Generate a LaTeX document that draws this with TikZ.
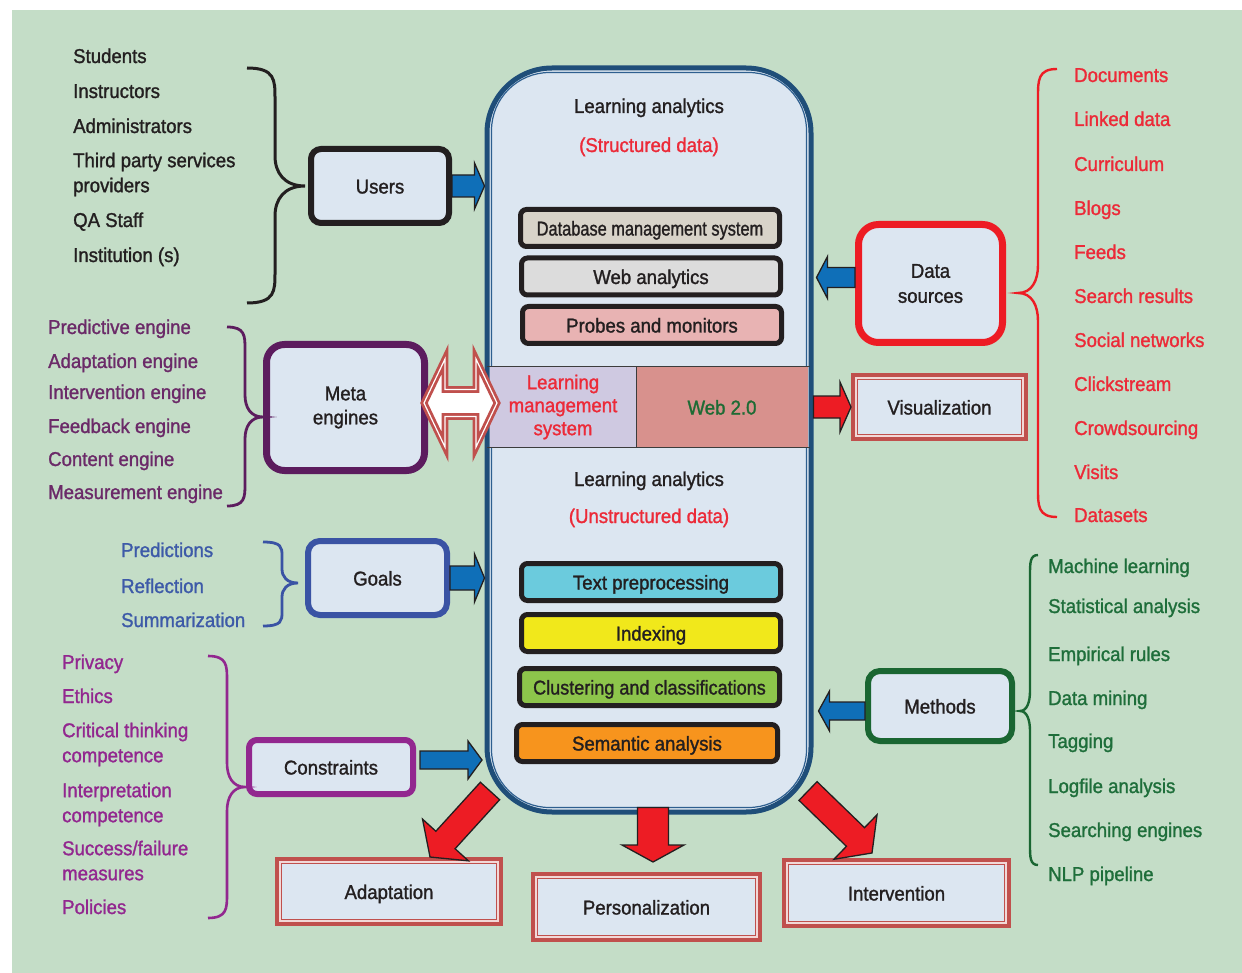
\documentclass[tikz,border=0pt]{standalone}
\usepackage{fontspec}
\usepackage{graphicx}
\setmainfont{Liberation Sans}[FakeStretch=0.93,FakeBold=1.3]
\usetikzlibrary{calc}
\definecolor{bggreen}{HTML}{C4DDC7}
\definecolor{boxfill}{HTML}{DCE6F1}
\definecolor{ink}{HTML}{231F20}
\definecolor{laBlue}{HTML}{1F4E79}
\definecolor{laIn}{HTML}{2E5F8F}
\definecolor{redtxt}{HTML}{EC2A38}
\definecolor{purptxt}{HTML}{6B2A68}
\definecolor{bluetxt}{HTML}{3D5AA8}
\definecolor{magtxt}{HTML}{92278F}
\definecolor{greentxt}{HTML}{1E6E3A}
\definecolor{metaC}{HTML}{5C1C5E}
\definecolor{goalC}{HTML}{3A53A4}
\definecolor{consC}{HTML}{92278F}
\definecolor{dsC}{HTML}{ED1C24}
\definecolor{methC}{HTML}{1A6632}
\definecolor{outC}{HTML}{C0504D}
\definecolor{outIn}{HTML}{F2D8D7}
\definecolor{arrBlue}{HTML}{0F6FB8}
\definecolor{arrRed}{HTML}{ED1C24}
\definecolor{dbmsC}{HTML}{D8D3C9}
\definecolor{webC}{HTML}{DCDCDC}
\definecolor{probC}{HTML}{E8B3B3}
\definecolor{textC}{HTML}{6BCBDD}
\definecolor{idxC}{HTML}{F1E81B}
\definecolor{clusC}{HTML}{8DC54B}
\definecolor{semC}{HTML}{F7941D}
\definecolor{lmsC}{HTML}{CFC9E1}
\definecolor{webtwoC}{HTML}{D8918D}
\definecolor{webtwoT}{HTML}{1E6B34}
\definecolor{bandline}{HTML}{3C3C3C}

\tikzset{
 ubox/.style={draw=#1, fill=boxfill, line width=6pt, rounded corners=10pt, text=ink, inner sep=0pt},
 onelabel/.style={text height=15pt, text depth=0pt},
 obox/.style={draw=outC, line width=7pt, fill=boxfill, text=ink, inner sep=0pt, text height=15pt, text depth=0pt},
 oinner/.style={draw=outIn, line width=1.2pt},
 bar/.style={draw=ink, line width=5pt, rounded corners=6pt, fill=#1, text=ink, inner sep=0pt, text height=15pt, text depth=0pt, minimum width=259pt, minimum height=37pt},
 item/.style={anchor=base west, inner sep=0pt, text=#1},
 itemtwo/.style={anchor=north west, inner sep=0pt, align=left, text=#1},
 barrowB/.style={fill=arrBlue, draw=ink, line width=1.3pt},
 barrowR/.style={fill=arrRed, draw=ink, line width=1.3pt},
 title/.style={anchor=base, inner sep=0pt, text=#1},
}

% block arrow: style, tail, tip, half shaft, half head, head length
\newcommand\blockarrow[6]{%
  \path (#2) coordinate (ba-a) (#3) coordinate (ba-b);
  \coordinate (ba-c) at ($(ba-b)!#6pt!(ba-a)$);
  \draw[#1] ($(ba-a)!#4pt!90:(ba-b)$) -- ($(ba-c)!#4pt!-90:(ba-a)$) -- ($(ba-c)!#5pt!-90:(ba-a)$) -- (ba-b) -- ($(ba-c)!#5pt!90:(ba-a)$) -- ($(ba-c)!#4pt!90:(ba-a)$) -- ($(ba-a)!#4pt!-90:(ba-b)$) -- cycle;
}
% brace: style, x end, x straight, x tip, y top, y tip, y bottom, curl
\newcommand\mybrace[8]{%
  \draw[#1] (#2,#5) .. controls (#3,#5) and (#3,{#5+0.4*#8}) .. (#3,{#5+#8})
    -- (#3,{#6-#8}) .. controls (#3,{#6-0.45*#8}) and ({#3+0.3*(#4-#3)},#6) .. (#4,#6)
    .. controls ({#3+0.3*(#4-#3)},#6) and (#3,{#6+0.45*#8}) .. (#3,{#6+#8})
    -- (#3,{#7-#8}) .. controls (#3,{#7-0.4*#8}) and (#3,#7) .. (#2,#7);
}
% inset line inside a node: node, inset, style
\newcommand\insetline[3]{%
  \draw[#3] ($(#1.north west)+(#2,#2)$) rectangle ($(#1.south east)+(-#2,-#2)$);
}

\begin{document}
\begin{tikzpicture}[x=1pt,y=-1pt,font=\fontsize{20}{25}\selectfont]
\useasboundingbox (0,0) rectangle (1242,973);
\fill[white] (0,0) rectangle (1242,973);
\fill[bggreen] (12,10) rectangle (1242,973);

% central learning analytics box
\node[draw=laBlue, line width=5pt, fill=boxfill,
      rounded corners=65pt, minimum width=324pt, minimum height=744pt, inner sep=0pt] (la) at (649,440) {};
\draw[laIn, line width=1.2pt, rounded corners=58pt] ($(la.north west)+(7,7)$) rectangle ($(la.south east)+(-7,-7)$);

% band
\node[fill=lmsC, minimum width=146pt, minimum height=80pt, inner sep=0pt, text=redtxt,
      align=center, font=\fontsize{20}{23}\selectfont] (lms) at (563,407) {Learning\\management\\system};
\node[fill=webtwoC, minimum width=172pt, minimum height=80pt, inner sep=0pt, text=webtwoT, onelabel] (web2) at (722,407) {Web 2.0};
\draw[bandline, line width=0.9pt] ($(lms.north west)+(-3,0)$) -- ($(web2.north east)+(2,0)$);
\draw[bandline, line width=0.9pt] ($(lms.south west)+(-3,0)$) -- ($(web2.south east)+(2,0)$);
\draw[bandline, line width=0.9pt] (lms.north east) -- (lms.south east);

% titles
\node[title=ink] (t1) at (649,113) {Learning analytics};
\node[title=redtxt] (t2) at (649,152) {(Structured data)};
\node[title=ink] (t3) at (649,486) {Learning analytics};
\node[title=redtxt] (t4) at (649,523) {(Unstructured data)};

% bars
\node[bar=dbmsC] (dbms) at (650,228) {\scalebox{0.88}[1]{Database management system}};
\node[bar=webC] (wa) at (651,276.5) {Web analytics};
\node[bar=probC] (pm) at (652,325) {Probes and monitors};
\node[bar=textC] (tp) at (651,582) {Text preprocessing};
\node[bar=idxC] (ix) at (651,633) {Indexing};
\node[bar=clusC, minimum width=260pt] (cc) at (649.5,687) {\scalebox{0.97}[1]{Clustering and classifications}};
\node[bar=semC, minimum width=261pt] (sa) at (647,743) {Semantic analysis};

% side boxes
\node[ubox=ink, minimum width=138pt, minimum height=74pt, onelabel] (users) at (380,186) {Users};
\node[ubox=metaC, line width=7pt, rounded corners=18pt, minimum width=158pt, minimum height=126pt, align=center,
      font=\fontsize{20}{24}\selectfont] (meta) at (345.5,407.5) {Meta\\engines};
\node[ubox=goalC, rounded corners=12pt, minimum width=139pt, minimum height=74pt, onelabel] (goals) at (377.5,578) {Goals};
\node[ubox=consC, rounded corners=8pt, minimum width=164pt, minimum height=54pt, onelabel] (cons) at (331,767) {Constraints};
\node[ubox=dsC, line width=7pt, rounded corners=20pt, minimum width=144pt, minimum height=118pt, align=center] (ds) at (930.5,283.5) {Data\\sources};
\node[ubox=methC, rounded corners=12pt, minimum width=144pt, minimum height=70pt, onelabel] (meth) at (940,706) {Methods};
\node[obox, minimum width=170pt, minimum height=61pt] (vis) at (939.5,407) {Visualization};
\node[obox, minimum width=221pt, minimum height=62pt] (adapt) at (389,891.5) {Adaptation};
\node[obox, minimum width=224pt, minimum height=63pt] (pers) at (646.5,907) {Personalization};
\node[obox, minimum width=222pt, minimum height=63pt] (inter) at (896.5,893) {Intervention};
\insetline{vis}{5}{oinner}
\insetline{adapt}{5}{oinner}
\insetline{pers}{5}{oinner}
\insetline{inter}{5}{oinner}

% arrows
\blockarrow{barrowB}{users.east}{users.east -| la.west}{11}{23}{10}
\blockarrow{barrowB}{goals.east}{goals.east -| la.west}{12}{24}{10}
\coordinate (cA) at ($(cons.east)+(4,-7)$);
\coordinate (cB) at ($(cons.east)+(66,-7)$);
\blockarrow{barrowB}{cA}{cB}{9}{19}{14}
\coordinate (dA) at ($(ds.west)+(0,-6)$);
\coordinate (dB) at ($(la.east |- dA)+(3,0)$);
\blockarrow{barrowB}{dA}{dB}{10}{21}{11}
\coordinate (mA) at ($(meth.west)+(0,5)$);
\coordinate (mB) at ($(la.east |- mA)+(5,0)$);
\blockarrow{barrowB}{mA}{mB}{9}{20}{11}
\blockarrow{barrowR}{la.east |- vis.west}{vis.west}{11}{25}{11}
\coordinate (pA) at ($(la.south)+(4,-7)$);
\coordinate (pB) at ($(pers.north)+(6.5,-10)$);
\blockarrow{barrowR}{pA}{pB}{15.5}{31}{17}
\coordinate (aA) at (490,791);
\coordinate (aB) at (430,857);
\blockarrow{barrowR}{aA}{aB}{13}{31}{23}
\coordinate (iA) at (808,791);
\coordinate (iB) at (872,853);
\blockarrow{barrowR}{iA}{iB}{13}{31}{23}

% double arrow meta <-> LMS
\coordinate (dl) at (424,403);
\coordinate (dr) at (497,403);
\draw[draw=outC, line width=2.8pt, double=white, double distance=1.2pt, fill=white]
 (dl) -- ($(dl)+(21,-44)$) -- ($(dl)+(21,-13.5)$) -- ($(dr)+(-21,-13.5)$) -- ($(dr)+(-21,-44)$) -- (dr)
 -- ($(dr)+(-21,44)$) -- ($(dr)+(-21,13.5)$) -- ($(dl)+(21,13.5)$) -- ($(dl)+(21,44)$) -- cycle;

% braces
\mybrace{draw=ink, line width=3pt}{247}{275}{305}{68}{186}{303}{30}
\mybrace{draw=metaC, line width=2.8pt}{227}{245}{263}{327}{417}{506}{22}
\mybrace{draw=goalC, line width=2.8pt}{263}{282}{298}{542}{583}{626}{14}
\mybrace{draw=consC, line width=2.6pt}{208}{227}{245}{656}{787}{918}{24}
\mybrace{draw=dsC, line width=2.4pt}{1057}{1038}{1018}{69}{293}{517}{28}
\mybrace{draw=methC, line width=2.4pt}{1038}{1030}{1020}{555}{711}{865}{20}

% users list
\node[item=ink] (u1) at (73,63) {Students};
\node[item=ink] (u2) at (73,98) {Instructors};
\node[item=ink] (u3) at (73,133) {Administrators};
\node[itemtwo=ink] (u4) at (73,152) {\rule{0pt}{15pt}Third party services\\providers};
\node[item=ink] (u5) at (73,227) {QA Staff};
\node[item=ink] (u6) at (73,262) {Institution (s)};

% meta list
\node[item=purptxt] (e1) at (48,334) {Predictive engine};
\node[item=purptxt] (e2) at (48,368) {Adaptation engine};
\node[item=purptxt] (e3) at (48,399) {Intervention engine};
\node[item=purptxt] (e4) at (48,433) {Feedback engine};
\node[item=purptxt] (e5) at (48,466) {Content engine};
\node[item=purptxt] (e6) at (48,499) {Measurement engine};

% goals list
\node[item=bluetxt] (g1) at (121,557) {Predictions};
\node[item=bluetxt] (g2) at (121,593) {Reflection};
\node[item=bluetxt] (g3) at (121,627) {Summarization};

% constraints list
\node[item=magtxt] (k1) at (62,669) {Privacy};
\node[item=magtxt] (k2) at (62,703) {Ethics};
\node[itemtwo=magtxt] (k3) at (62,722) {\rule{0pt}{15pt}Critical thinking\\competence};
\node[itemtwo=magtxt] (k4) at (62,782) {\rule{0pt}{15pt}Interpretation\\competence};
\node[itemtwo=magtxt] (k5) at (62,840) {\rule{0pt}{15pt}Success/failure\\measures};
\node[item=magtxt] (k6) at (62,914) {Policies};

% data sources list
\node[item=redtxt] (s1) at (1074,82) {Documents};
\node[item=redtxt] (s2) at (1074,126) {Linked data};
\node[item=redtxt] (s3) at (1074,171) {Curriculum};
\node[item=redtxt] (s4) at (1074,215) {Blogs};
\node[item=redtxt] (s5) at (1074,259) {Feeds};
\node[item=redtxt] (s6) at (1074,303) {Search results};
\node[item=redtxt] (s7) at (1074,347) {Social networks};
\node[item=redtxt] (s8) at (1074,391) {Clickstream};
\node[item=redtxt] (s9) at (1074,435) {Crowdsourcing};
\node[item=redtxt] (s10) at (1074,479) {Visits};
\node[item=redtxt] (s11) at (1074,522) {Datasets};

% methods list
\node[item=greentxt] (m1) at (1048,573) {Machine learning};
\node[item=greentxt] (m2) at (1048,613) {Statistical analysis};
\node[item=greentxt] (m3) at (1048,661) {Empirical rules};
\node[item=greentxt] (m4) at (1048,705) {Data mining};
\node[item=greentxt] (m5) at (1048,748) {Tagging};
\node[item=greentxt] (m6) at (1048,793) {Logfile analysis};
\node[item=greentxt] (m7) at (1048,837) {Searching engines};
\node[item=greentxt] (m8) at (1048,881) {NLP pipeline};
\end{tikzpicture}
\end{document}
